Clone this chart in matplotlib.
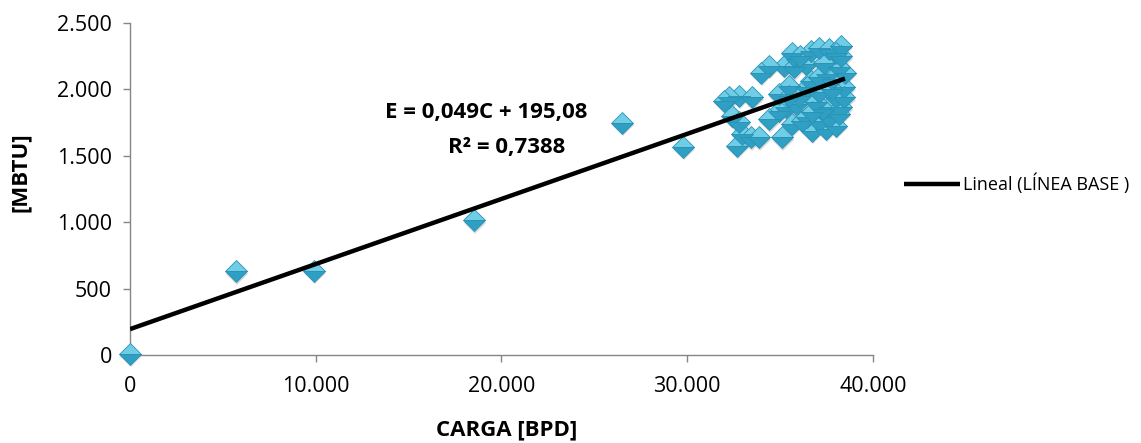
import numpy as np
import matplotlib
matplotlib.use("Agg")
import matplotlib.pyplot as plt
import matplotlib.transforms as mtransforms

# Carga [BPD] vs energia [MBTU], linea base
carga = [0, 5700, 9900, 18500, 26500, 29800,
         35660, 36650, 37100, 37630, 38300, 35930, 36380, 37370, 37990, 35220,
         34410, 33960, 35750, 38170, 38500, 37540, 36650, 37100, 37810, 38450,
         35480, 34950, 32800, 32260, 31990, 33510, 36470, 37100, 37990, 38450,
         36920, 37630, 38300, 35300, 35840, 34950, 34410, 32440, 32800, 36470,
         37100, 37630, 38170, 35660, 36200, 36740, 37450, 37990, 32970, 33420,
         33870, 35120, 32710, 36000, 37300, 36700, 37800, 35500, 38300, 36100]
energia = [10, 630, 635, 1015, 1750, 1570,
           2277, 2290, 2315, 2302, 2327, 2227, 2190, 2202, 2277, 2177,
           2177, 2127, 2165, 2165, 2127, 2115, 2065, 2090, 2077, 2015,
           2027, 1965, 1952, 1940, 1915, 1940, 2015, 1977, 1940, 1940,
           1902, 1865, 1865, 1865, 1890, 1840, 1777, 1802, 1752, 1790,
           1765, 1790, 1815, 1740, 1765, 1690, 1702, 1727, 1665, 1640,
           1640, 1640, 1577, 1950, 1850, 1830, 2000, 1950, 2250, 2250]

pendiente = 0.049
intercepto = 195.08
r2 = 0.7388

x_ticks = [0, 10000, 20000, 30000, 40000]
x_labels = ["0", "10.000", "20.000", "30.000", "40.000"]
y_ticks = [0, 500, 1000, 1500, 2000, 2500]
y_labels = ["0", "500", "1.000", "1.500", "2.000", "2.500"]

plt.rcParams["font.family"] = ["Open Sans", "DejaVu Sans"]

fig = plt.figure(figsize=(11.41, 4.43), dpi=100)
ax = fig.add_axes([0.114, 0.1986, 0.651, 0.7495])

# sombra de los marcadores
shadow = mtransforms.offset_copy(ax.transData, fig=fig, x=1.0, y=-2.5, units="dots")
ax.plot(carga, energia, linestyle="none", marker="D", markersize=11.5,
        color="#9a9a9a", alpha=0.35, markeredgewidth=0, transform=shadow,
        clip_on=False, zorder=2)
ax.plot(carga, energia, linestyle="none", marker="D", markersize=11.5,
        fillstyle="top", markerfacecolor="#6fcde6", markerfacecoloralt="#2f9fc3",
        markeredgecolor="#2a93b5", markeredgewidth=0.6, clip_on=False, zorder=3,
        label="LÍNEA BASE")

# linea de tendencia
xt = np.array([0, max(carga)])
ax.plot(xt, pendiente * xt + intercepto, color="black", linewidth=3.2,
        solid_capstyle="butt", zorder=4, label="Lineal (LÍNEA BASE )")

ax.set_xlim(0, 40000)
ax.set_ylim(0, 2500)
ax.set_xticks(x_ticks)
ax.set_xticklabels(x_labels)
ax.set_yticks(y_ticks)
ax.set_yticklabels(y_labels)
ax.tick_params(axis="both", labelsize=15.5, color="#868686", length=5, width=1)
ax.tick_params(axis="x", pad=10)
ax.tick_params(axis="y", pad=8)
for s in ["top", "right"]:
    ax.spines[s].set_visible(False)
for s in ["left", "bottom"]:
    ax.spines[s].set_color("#868686")
    ax.spines[s].set_linewidth(1)

ax.set_xlabel("CARGA [BPD]", fontsize=16, fontweight="bold")
ax.set_ylabel("[MBTU]", fontsize=16, fontweight="bold")
ax.xaxis.set_label_coords(0.507, -0.195)
ax.yaxis.set_label_coords(-0.133, 0.55)

ax.text(19200, 1825, "E = 0,049C + 195,08", fontsize=16, fontweight="bold",
        ha="center", va="center", zorder=5)
ax.text(20300, 1565, "R² = 0,7388", fontsize=16, fontweight="bold",
        ha="center", va="center", zorder=5)

h, l = ax.get_legend_handles_labels()
fig.legend([h[1]], [l[1]], loc="center left", bbox_to_anchor=(0.778, 0.585),
           frameon=False, fontsize=13, handlelength=3.1, handletextpad=0.15)

fig.savefig("out.png", dpi=100)
